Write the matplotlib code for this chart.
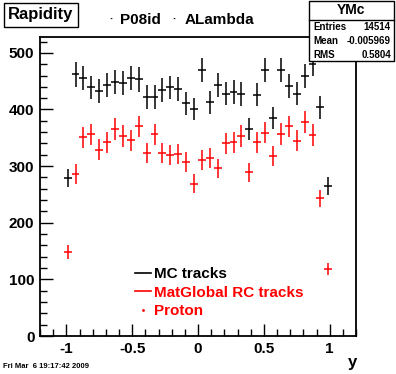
import numpy as np
import matplotlib
matplotlib.use('Agg')
import matplotlib.pyplot as plt
from matplotlib.lines import Line2D
from matplotlib.patches import Rectangle

plt.rcParams['font.family'] = ['Liberation Sans', 'DejaVu Sans']
plt.rcParams['font.weight'] = 'bold'

# bin centres (width 0.06)
y_centres = np.round(np.arange(-0.99, 1.0, 0.06), 2)
bin_half = 0.03

mc_tracks = [279, 462, 455, 439, 433, 443, 449, 446, 455, 453,
             422, 422, 434, 439, 436, 411, 401, 470, 413, 443,
             428, 431, 427, 366, 426, 470, 385, 470, 442, 428,
             459, 481, 404, 265]
rc_tracks = [148, 286, 351, 356, 329, 342, 365, 353, 346, 370,
             323, 356, 323, 320, 321, 307, 269, 311, 314, 296,
             340, 342, 353, 289, 342, 359, 318, 357, 370, 345,
             378, 355, 243, 118]

labels = ['MC tracks', 'MatGlobal RC tracks', 'Proton']
stats = [('Entries', '14514'), ('Mean', '-0.005969'), ('RMS', '0.5804')]

fig = plt.figure(figsize=(3.96, 3.74), dpi=100)
ax = fig.add_axes([40/396, 1-336/374, 316/396, 299/374])

ax.errorbar(y_centres, mc_tracks, xerr=bin_half, yerr=np.sqrt(mc_tracks),
            fmt='none', ecolor='black', elinewidth=1.1, capsize=0)
ax.errorbar(y_centres, rc_tracks, xerr=bin_half, yerr=np.sqrt(rc_tracks),
            fmt='none', ecolor='red', elinewidth=1.1, capsize=0)

ax.set_xlim(-1.2, 1.2)
ax.set_ylim(0, 528)
ax.set_xticks([-1, -0.5, 0, 0.5, 1])
ax.set_xticklabels(['-1', '-0.5', '0', '0.5', '1'])
ax.set_xticks(np.arange(-1.2, 1.21, 0.1), minor=True)
ax.set_yticks([0, 100, 200, 300, 400, 500])
ax.set_yticks(np.arange(0, 528, 20), minor=True)
ax.tick_params(which='both', direction='in', top=False, right=False,
               labelsize=11, width=1, pad=4)
ax.tick_params(which='major', length=9)
ax.tick_params(which='minor', length=5)
for lab in ax.get_xticklabels() + ax.get_yticklabels():
    lab.set_fontweight('bold')
for s in ax.spines.values():
    s.set_linewidth(1.3)

handles = [Line2D([], [], color='black', lw=1.2),
           Line2D([], [], color='red', lw=1.2),
           Line2D([], [], color='red', lw=0, marker='.', markersize=2)]
leg = ax.legend(handles, labels, loc='lower left', bbox_to_anchor=(0.256, 0.013),
                frameon=False, fontsize=11, handlelength=1.05, handletextpad=0.2,
                labelspacing=0.3, labelcolor=['black', 'red', 'red'])
for t in leg.get_texts():
    t.set_fontweight('bold')

fig.text(352/396, 1-362/374, 'y', fontsize=12, fontweight='bold', ha='center', va='center')

# title pave
fig.text(8/396, 1-15/374, 'Rapidity', fontsize=12, fontweight='bold', va='center',
         bbox=dict(boxstyle='square,pad=0.25', fc='white', ec='black', lw=1))
fig.text(111/396, 1-20/374, '·', fontsize=8, ha='center', va='center')
fig.text(120/396, 1-20/374, 'P08id', fontsize=11, fontweight='bold', va='center')
fig.text(174/396, 1-20/374, '·', fontsize=8, ha='center', va='center')
fig.text(185/396, 1-20/374, 'ALambda', fontsize=11, fontweight='bold', va='center')

# stats box
fig.patches.append(Rectangle((309/396, 1-61/374), 85/396, 60/374, transform=fig.transFigure,
                             fc='white', ec='black', lw=1, zorder=5))
fig.lines.append(Line2D([309/396, 394/396], [1-20/374, 1-20/374], transform=fig.transFigure,
                        color='black', lw=1, zorder=6))
fig.text(351/396, 1-10/374, 'YMc', fontsize=10, fontweight='bold', ha='center', va='center', zorder=7)
for i, (k, v) in enumerate(stats):
    yy = 1 - (27 + 14*i)/374
    fig.text(313/396, yy, k, fontsize=7, fontweight='bold', va='center', zorder=7)
    fig.text(391/396, yy, v, fontsize=7, fontweight='bold', ha='right', va='center', zorder=7)

fig.text(3/396, 1-367/374, 'Fri Mar  6 19:17:42 2009', fontsize=5.5, va='center')

fig.savefig('out.png', dpi=100, facecolor='white')
